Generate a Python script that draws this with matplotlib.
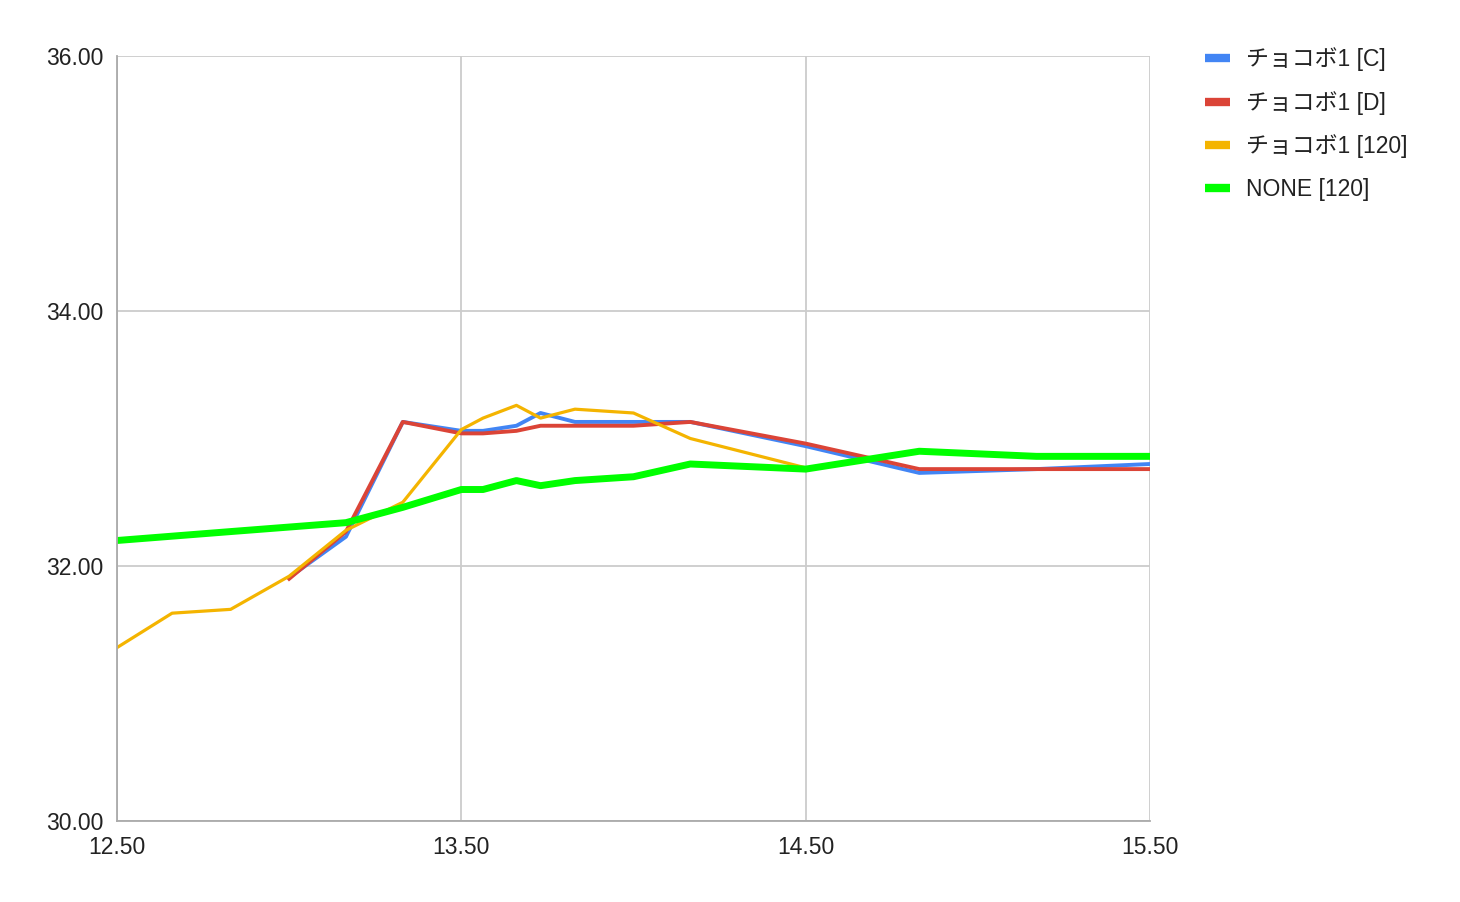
import matplotlib.pyplot as plt
from matplotlib.lines import Line2D

plt.rcParams['font.family'] = ['Liberation Sans', 'Noto Sans CJK JP', 'DejaVu Sans']

# time (hours) and temperature readings
x_c = [13.0, 13.165, 13.33, 13.5, 13.563, 13.66, 13.73, 13.83, 14.0, 14.165, 14.5, 14.83, 15.17, 15.5]
y_c = [31.91, 32.23, 33.13, 33.06, 33.06, 33.10, 33.20, 33.13, 33.13, 33.13, 32.94, 32.73, 32.76, 32.80]

x_d = [13.0, 13.165, 13.33, 13.5, 13.563, 13.66, 13.73, 13.83, 14.0, 14.165, 14.5, 14.83, 15.17, 15.5]
y_d = [31.90, 32.27, 33.13, 33.04, 33.04, 33.06, 33.10, 33.10, 33.10, 33.13, 32.96, 32.76, 32.76, 32.76]

x_120 = [12.5, 12.66, 12.83, 13.0, 13.165, 13.33, 13.5, 13.563, 13.66, 13.73, 13.83, 14.0, 14.165, 14.5]
y_120 = [31.36, 31.63, 31.66, 31.92, 32.28, 32.50, 33.07, 33.16, 33.26, 33.16, 33.23, 33.20, 33.00, 32.77]

x_none = [12.5, 12.83, 13.165, 13.33, 13.5, 13.563, 13.66, 13.73, 13.83, 14.0, 14.165, 14.5, 14.83, 15.17, 15.5]
y_none = [32.20, 32.27, 32.34, 32.46, 32.60, 32.60, 32.67, 32.63, 32.67, 32.70, 32.80, 32.76, 32.90, 32.86, 32.86]

labels = ['チョコボ1 [C]', 'チョコボ1 [D]', 'チョコボ1 [120]', 'NONE [120]']
colors = ['#4285F4', '#DB4437', '#F4B400', '#00FF00']

fig = plt.figure(figsize=(14.6, 9.02), dpi=100)
ax = fig.add_axes([117/1460, 1-821/902, (1150-117)/1460, (821-56)/902])

ax.plot(x_c, y_c, color=colors[0], linewidth=2.8, solid_joinstyle='round')
ax.plot(x_d, y_d, color=colors[1], linewidth=2.8, solid_joinstyle='round')
ax.plot(x_120, y_120, color=colors[2], linewidth=2.3, solid_joinstyle='round')
ax.plot(x_none, y_none, color=colors[3], linewidth=5, solid_joinstyle='round')

ax.set_xlim(12.5, 15.5)
ax.set_ylim(30, 36)
ax.set_xticks([12.5, 13.5, 14.5, 15.5])
ax.set_yticks([30, 32, 34, 36])
ax.xaxis.set_major_formatter('{x:.2f}')
ax.yaxis.set_major_formatter('{x:.2f}')
ax.tick_params(length=0, labelsize=16.5, colors='#222222', pad=10)
ax.tick_params(axis='x', pad=11)
ax.grid(color='#cccccc', linewidth=1.3)
ax.set_axisbelow(True)
for s in ['top', 'right']:
    ax.spines[s].set_visible(False)
for s in ['left', 'bottom']:
    ax.spines[s].set_color('#aaaaaa')
    ax.spines[s].set_linewidth(1.3)

handles = [Line2D([0], [0], color=c, linewidth=6, solid_capstyle='butt') for c in colors]
fig.legend(handles, labels, loc='upper left', bbox_to_anchor=(1205/1460, 1-47/902),
           frameon=False, fontsize=16.5, handlelength=1.1, handletextpad=0.7,
           labelspacing=0.86, borderpad=0, borderaxespad=0, labelcolor='#222222')

fig.savefig('out.png', dpi=100)
